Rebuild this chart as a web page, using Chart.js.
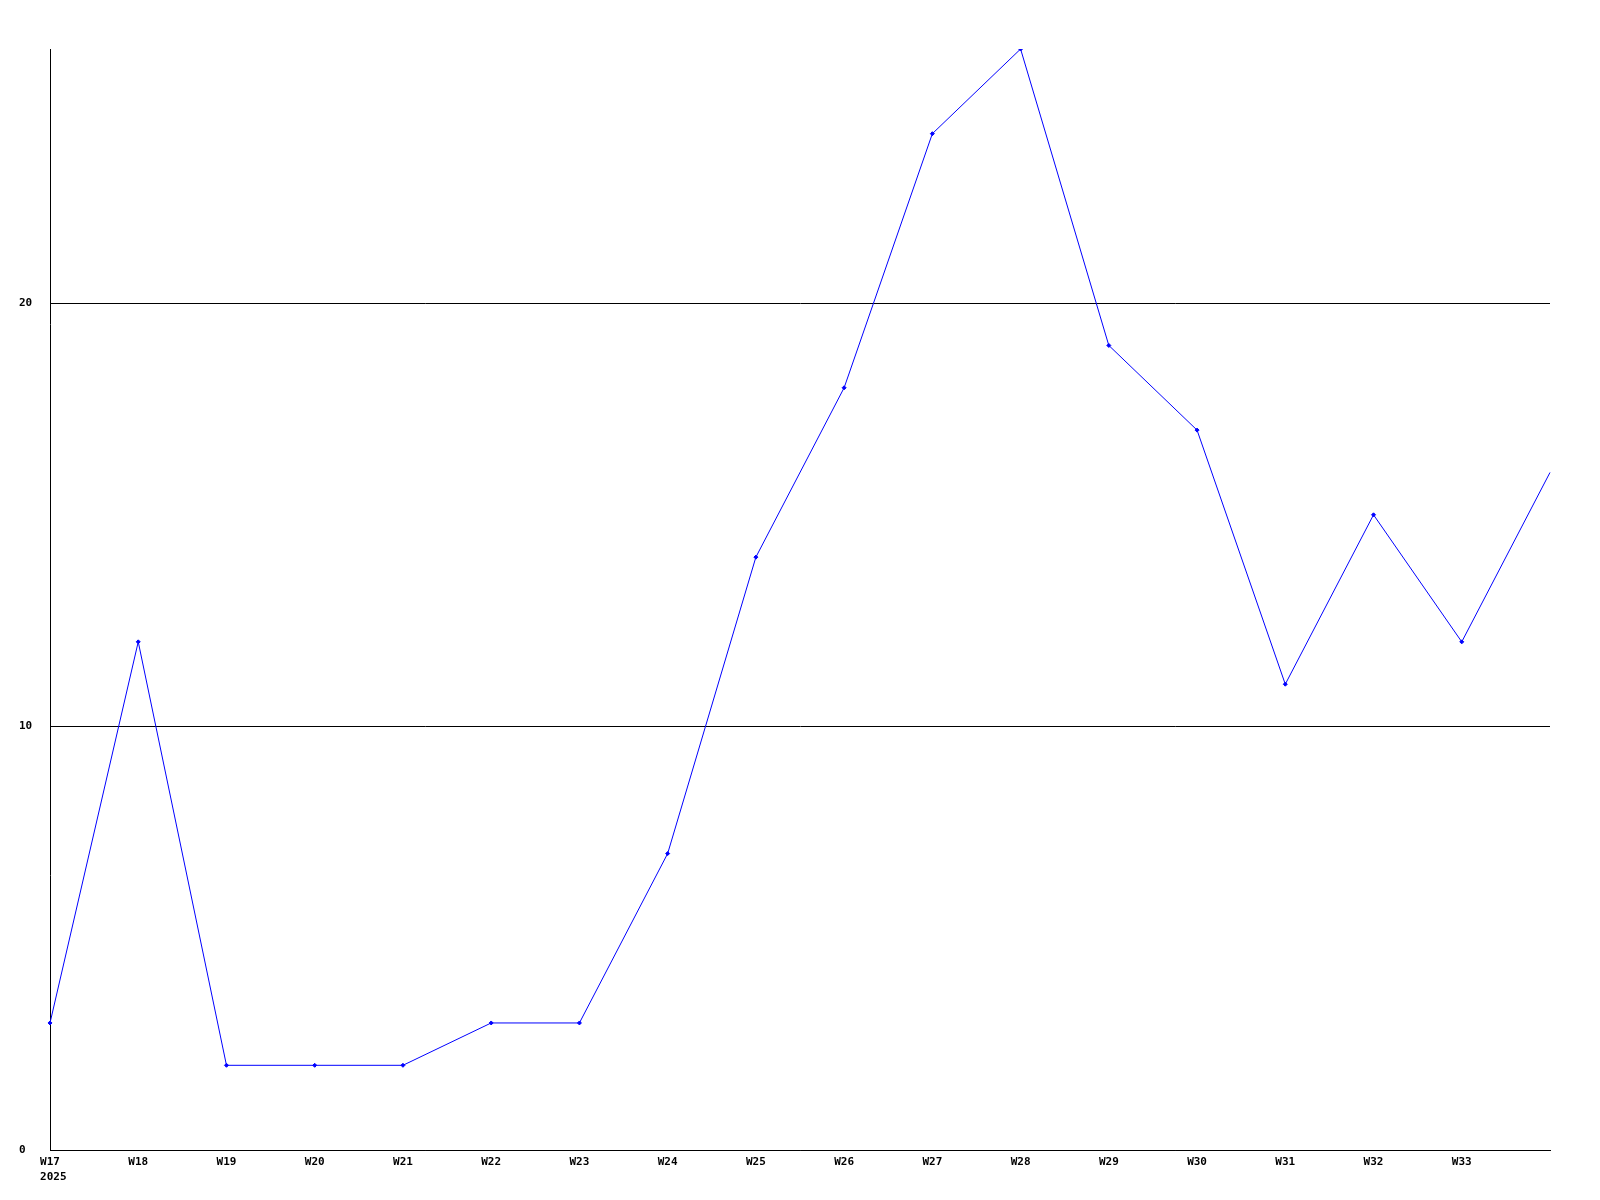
<!DOCTYPE html>
<html>
<head>
<meta charset="utf-8">
<script src="https://cdn.jsdelivr.net/npm/chart.js@4/dist/chart.umd.min.js"></script>
<style>
html,body{margin:0;padding:0;background:#fff;}
#wrap{width:1600px;height:1200px;}
</style>
</head>
<body>
<div id="wrap"><canvas id="c" width="1600" height="1200"></canvas></div>
<script>
const weeks = ['W17','W18','W19','W20','W21','W22','W23','W24','W25','W26','W27','W28','W29','W30','W31','W32','W33','W34'];
const values = [3,12,2,2,2,3,3,7,14,18,24,26,19,17,11,15,12,16];
const yearLabel = '2025';
const yTicks = [0,10,20];

const FONT = {family:'"DejaVu Sans Mono", monospace', size:11, weight:'bold'};

const yearPlugin = {
  id:'yearLabel',
  afterDraw(chart){
    const ctx = chart.ctx;
    const xs = chart.scales.x;
    ctx.save();
    ctx.font = 'bold 11px "DejaVu Sans Mono", monospace';
    ctx.fillStyle = '#000';
    ctx.textBaseline = 'top';
    ctx.textAlign = 'left';
    const w = ctx.measureText(weeks[0]).width;
    const x = xs.getPixelForValue(0) - w/2;
    ctx.fillText(yearLabel, x, xs.top + 6 + 16);
    ctx.restore();
  }
};

new Chart(document.getElementById('c'), {
  type:'line',
  data:{
    labels: weeks,
    datasets:[{
      data: values,
      borderColor:'#0000ff',
      backgroundColor:'#0000ff',
      borderWidth:1,
      tension:0,
      pointStyle:'rectRot',
      pointRadius:(c)=> c.dataIndex === values.length-1 ? 0 : 2,
      pointBorderWidth:1,
      fill:false
    }]
  },
  options:{
    responsive:false,
    animation:false,
    events:[],
    layout:{padding:{left:19,right:50,top:49,bottom:0}},
    plugins:{legend:{display:false},tooltip:{enabled:false}},
    scales:{
      x:{
        type:'category',
        offset:false,
        grid:{display:false,drawTicks:false},
        border:{display:true,color:'#000',width:1},
        ticks:{
          color:'#000',font:FONT,padding:6,maxRotation:0,autoSkip:false,
          callback:(v,i)=> i === weeks.length-1 ? '' : weeks[i]
        },
        afterFit:(s)=>{ s.height = 50; }
      },
      y:{
        min:0,max:26,
        afterBuildTicks:(s)=>{ s.ticks = yTicks.map(v=>({value:v})); },
        grid:{color:'#000',lineWidth:1,drawTicks:false},
        border:{display:true,color:'#000',width:1},
        ticks:{color:'#000',font:FONT,padding:0,crossAlign:'far'},
        afterFit:(s)=>{ s.width = 31; }
      }
    }
  },
  plugins:[yearPlugin]
});
</script>
</body>
</html>
